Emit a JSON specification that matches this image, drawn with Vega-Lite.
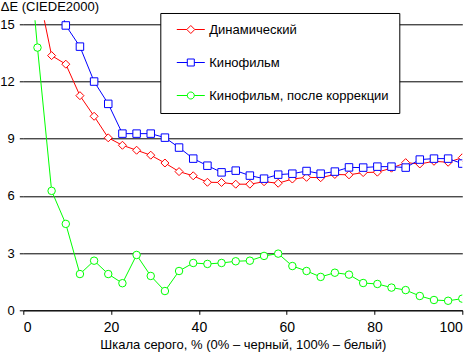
{
  "$schema": "https://vega.github.io/schema/vega-lite/v6.json",
  "width": 439,
  "height": 290,
  "autosize": {"type": "none"},
  "padding": {"left": 23.3, "top": 20.3, "right": 9.7, "bottom": 42.7},
  "background": "white",
  "config": {
    "view": {"stroke": null},
    "font": "Liberation Sans",
    "axis": {"labelColor": "black", "titleColor": "black", "titleFontWeight": "normal", "tickColor": "black", "domainColor": "black", "labelFont": "Liberation Sans", "titleFont": "Liberation Sans"}
  },
  "datasets": {
    "d": [
      {"x": 0, "y": 20.5, "s": "Динамический"}, {"x": 3.23, "y": 16.95, "s": "Динамический"}, {"x": 6.45, "y": 13.35, "s": "Динамический"}, {"x": 9.68, "y": 12.9, "s": "Динамический"}, {"x": 12.9, "y": 11.25, "s": "Динамический"}, {"x": 16.13, "y": 10.17, "s": "Динамический"}, {"x": 19.35, "y": 9.04, "s": "Динамический"}, {"x": 22.58, "y": 8.65, "s": "Динамический"}, {"x": 25.81, "y": 8.39, "s": "Динамический"}, {"x": 29.03, "y": 8.13, "s": "Динамический"}, {"x": 32.26, "y": 7.72, "s": "Динамический"}, {"x": 35.48, "y": 7.27, "s": "Динамический"}, {"x": 38.71, "y": 7.05, "s": "Динамический"}, {"x": 41.94, "y": 6.71, "s": "Динамический"}, {"x": 45.16, "y": 6.7, "s": "Динамический"}, {"x": 48.39, "y": 6.61, "s": "Динамический"}, {"x": 51.61, "y": 6.61, "s": "Динамический"}, {"x": 54.84, "y": 6.74, "s": "Динамический"}, {"x": 58.06, "y": 6.66, "s": "Динамический"}, {"x": 61.29, "y": 6.88, "s": "Динамический"}, {"x": 64.52, "y": 6.97, "s": "Динамический"}, {"x": 67.74, "y": 6.95, "s": "Динамический"}, {"x": 70.97, "y": 7.12, "s": "Динамический"}, {"x": 74.19, "y": 7.1, "s": "Динамический"}, {"x": 77.42, "y": 7.22, "s": "Динамический"}, {"x": 80.65, "y": 7.24, "s": "Динамический"}, {"x": 83.87, "y": 7.45, "s": "Динамический"}, {"x": 87.1, "y": 7.74, "s": "Динамический"}, {"x": 90.32, "y": 7.67, "s": "Динамический"}, {"x": 93.55, "y": 7.81, "s": "Динамический"}, {"x": 96.77, "y": 7.76, "s": "Динамический"}, {"x": 100, "y": 8.0, "s": "Динамический"},
      {"x": 0, "y": 22, "s": "Кинофильм"}, {"x": 3.23, "y": 20, "s": "Кинофильм"}, {"x": 6.45, "y": 17.5, "s": "Кинофильм"}, {"x": 9.68, "y": 14.93, "s": "Кинофильм"}, {"x": 12.9, "y": 13.82, "s": "Кинофильм"}, {"x": 16.13, "y": 11.99, "s": "Кинофильм"}, {"x": 19.35, "y": 10.82, "s": "Кинофильм"}, {"x": 22.58, "y": 9.26, "s": "Кинофильм"}, {"x": 25.81, "y": 9.26, "s": "Кинофильм"}, {"x": 29.03, "y": 9.26, "s": "Кинофильм"}, {"x": 32.26, "y": 9.05, "s": "Кинофильм"}, {"x": 35.48, "y": 8.53, "s": "Кинофильм"}, {"x": 38.71, "y": 7.95, "s": "Кинофильм"}, {"x": 41.94, "y": 7.58, "s": "Кинофильм"}, {"x": 45.16, "y": 7.23, "s": "Кинофильм"}, {"x": 48.39, "y": 7.32, "s": "Кинофильм"}, {"x": 51.61, "y": 7.06, "s": "Кинофильм"}, {"x": 54.84, "y": 6.9, "s": "Кинофильм"}, {"x": 58.06, "y": 7.11, "s": "Кинофильм"}, {"x": 61.29, "y": 7.16, "s": "Кинофильм"}, {"x": 64.52, "y": 7.3, "s": "Кинофильм"}, {"x": 67.74, "y": 7.16, "s": "Кинофильм"}, {"x": 70.97, "y": 7.27, "s": "Кинофильм"}, {"x": 74.19, "y": 7.49, "s": "Кинофильм"}, {"x": 77.42, "y": 7.48, "s": "Кинофильм"}, {"x": 80.65, "y": 7.53, "s": "Кинофильм"}, {"x": 83.87, "y": 7.53, "s": "Кинофильм"}, {"x": 87.1, "y": 7.48, "s": "Кинофильм"}, {"x": 90.32, "y": 7.9, "s": "Кинофильм"}, {"x": 93.55, "y": 7.95, "s": "Кинофильм"}, {"x": 96.77, "y": 7.95, "s": "Кинофильм"}, {"x": 100, "y": 7.69, "s": "Кинофильм"},
      {"x": 0, "y": 22, "s": "Кинофильм, после коррекции"}, {"x": 3.23, "y": 13.77, "s": "Кинофильм, после коррекции"}, {"x": 6.45, "y": 6.26, "s": "Кинофильм, после коррекции"}, {"x": 9.68, "y": 4.53, "s": "Кинофильм, после коррекции"}, {"x": 12.9, "y": 1.9, "s": "Кинофильм, после коррекции"}, {"x": 16.13, "y": 2.6, "s": "Кинофильм, после коррекции"}, {"x": 19.35, "y": 1.9, "s": "Кинофильм, после коррекции"}, {"x": 22.58, "y": 1.42, "s": "Кинофильм, после коррекции"}, {"x": 25.81, "y": 2.9, "s": "Кинофильм, после коррекции"}, {"x": 29.03, "y": 1.8, "s": "Кинофильм, после коррекции"}, {"x": 32.26, "y": 1.01, "s": "Кинофильм, после коррекции"}, {"x": 35.48, "y": 2.06, "s": "Кинофильм, после коррекции"}, {"x": 38.71, "y": 2.48, "s": "Кинофильм, после коррекции"}, {"x": 41.94, "y": 2.43, "s": "Кинофильм, после коррекции"}, {"x": 45.16, "y": 2.48, "s": "Кинофильм, после коррекции"}, {"x": 48.39, "y": 2.57, "s": "Кинофильм, после коррекции"}, {"x": 51.61, "y": 2.6, "s": "Кинофильм, после коррекции"}, {"x": 54.84, "y": 2.85, "s": "Кинофильм, после коррекции"}, {"x": 58.06, "y": 2.97, "s": "Кинофильм, после коррекции"}, {"x": 61.29, "y": 2.32, "s": "Кинофильм, после коррекции"}, {"x": 64.52, "y": 2.06, "s": "Кинофильм, после коррекции"}, {"x": 67.74, "y": 1.75, "s": "Кинофильм, после коррекции"}, {"x": 70.97, "y": 1.97, "s": "Кинофильм, после коррекции"}, {"x": 74.19, "y": 1.87, "s": "Кинофильм, после коррекции"}, {"x": 77.42, "y": 1.43, "s": "Кинофильм, после коррекции"}, {"x": 80.65, "y": 1.38, "s": "Кинофильм, после коррекции"}, {"x": 83.87, "y": 1.19, "s": "Кинофильм, после коррекции"}, {"x": 87.1, "y": 1.06, "s": "Кинофильм, после коррекции"}, {"x": 90.32, "y": 0.75, "s": "Кинофильм, после коррекции"}, {"x": 93.55, "y": 0.54, "s": "Кинофильм, после коррекции"}, {"x": 96.77, "y": 0.5, "s": "Кинофильм, после коррекции"}, {"x": 100, "y": 0.61, "s": "Кинофильм, после коррекции"}
    ]
  },
  "layer": [
    {
      "data": {"name": "d"},
      "mark": {"type": "line", "clip": true, "strokeWidth": 1},
      "encoding": {
        "x": {"field": "x", "type": "quantitative", "scale": {"domain": [0, 100], "nice": false},
          "axis": {"values": [0, 20, 40, 60, 80, 100], "grid": false, "tickSize": 4, "labelFontSize": 14, "labelPadding": 6, "title": "Шкала серого, % (0% – черный, 100% – белый)", "titleFontSize": 13, "titlePadding": 4}},
        "y": {"field": "y", "type": "quantitative", "scale": {"domain": [0, 15.2], "nice": false},
          "axis": {"values": [0, 3, 6, 9, 12, 15], "grid": true, "gridColor": "black", "gridOpacity": 1, "gridWidth": 1, "domain": false, "tickSize": 4, "labelFontSize": 13, "labelPadding": 5,
            "title": "ΔE (CIEDE2000)", "titleFontSize": 13, "titleAngle": 0, "titleAlign": "left", "titleBaseline": "alphabetic", "titleX": -23, "titleY": -9.5}},
        "color": {"field": "s", "type": "nominal",
          "scale": {"domain": ["Динамический", "Кинофильм", "Кинофильм, после коррекции"], "range": ["#ff0000", "#0000ff", "#00ff00"]},
          "legend": {"orient": "none", "legendX": 137, "legendY": -7.3, "title": null, "fillColor": "white", "strokeColor": "black", "padding": 10,
            "labelFontSize": 13, "labelFont": "Liberation Sans", "labelColor": "black", "labelLimit": 0, "symbolSize": 100, "symbolStrokeWidth": 1, "symbolFillColor": "white",
            "rowPadding": 19, "labelOffset": 12, "symbolOffset": 14,
            "encoding": {"symbols": {"fill": {"value": "white"}, "shape": {"value": {"expr": "datum.value === 'Динамический' ? 'M-2.8,0L-0.8,0M0.8,0L2.8,0M-0.8,0L0,-0.8L0.8,0L0,0.8Z' : datum.value === 'Кинофильм' ? 'M-2.8,0L-0.7,0M0.7,0L2.8,0M-0.7,-0.7L0.7,-0.7L0.7,0.7L-0.7,0.7Z' : 'M-2.8,0L-0.7,0M0.7,0L2.8,0M-0.7,0A0.7,0.7 0 1,1 0.7,0A0.7,0.7 0 1,1 -0.7,0Z'"}}}}}
        }
      }
    },
    {
      "data": {"name": "d"},
      "transform": [{"filter": "datum.s === 'Динамический'"}],
      "mark": {"type": "point", "clip": true, "filled": false, "fill": "white", "fillOpacity": 1, "opacity": 1, "strokeWidth": 1, "size": 64, "shape": "diamond", "stroke": "#ff0000"},
      "encoding": {"x": {"field": "x", "type": "quantitative"}, "y": {"field": "y", "type": "quantitative"}}
    },
    {
      "data": {"name": "d"},
      "transform": [{"filter": "datum.s === 'Кинофильм'"}],
      "mark": {"type": "point", "clip": true, "filled": false, "fill": "white", "fillOpacity": 1, "opacity": 1, "strokeWidth": 1, "size": 56, "shape": "square", "stroke": "#0000ff"},
      "encoding": {"x": {"field": "x", "type": "quantitative"}, "y": {"field": "y", "type": "quantitative"}}
    },
    {
      "data": {"name": "d"},
      "transform": [{"filter": "datum.s === 'Кинофильм, после коррекции'"}],
      "mark": {"type": "point", "clip": true, "filled": false, "fill": "white", "fillOpacity": 1, "opacity": 1, "strokeWidth": 1, "size": 56, "shape": "circle", "stroke": "#00ff00"},
      "encoding": {"x": {"field": "x", "type": "quantitative"}, "y": {"field": "y", "type": "quantitative"}}
    },
    {
      "mark": {"type": "rule", "color": "black", "strokeWidth": 1},
      "encoding": {"x": {"datum": 100}, "y": {"datum": 0}, "y2": {"datum": 15}}
    },
    {
      "mark": {"type": "rule", "color": "black", "strokeWidth": 1},
      "encoding": {"x": {"datum": 0}, "y": {"datum": 0}, "y2": {"datum": 15}}
    }
  ]
}
